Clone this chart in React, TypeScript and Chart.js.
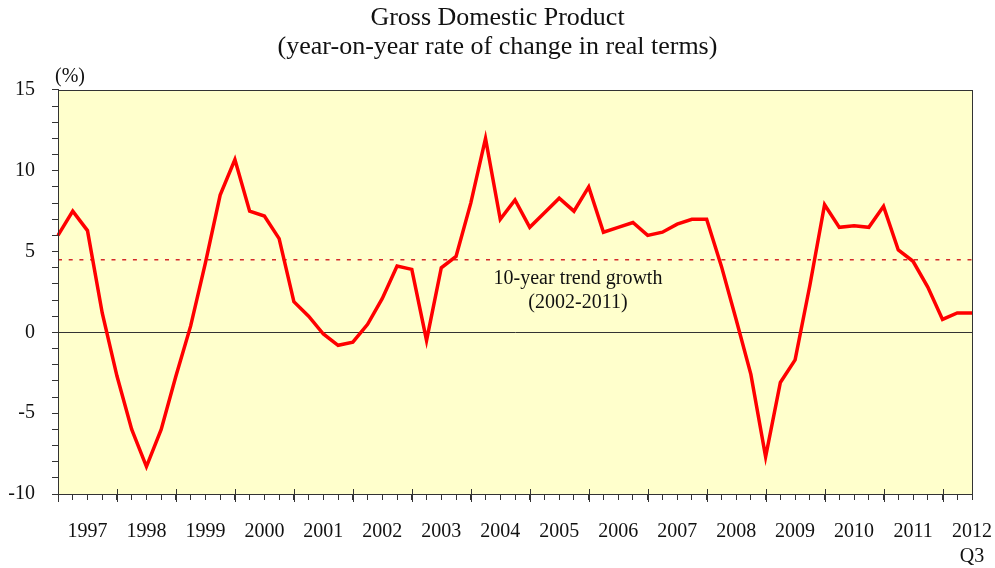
import React, { useEffect, useRef } from 'react';
import { Chart, registerables } from 'chart.js';

Chart.register(...registerables);

// ---- data ----
const YEARS = [1997, 1998, 1999, 2000, 2001, 2002, 2003, 2004, 2005, 2006, 2007, 2008, 2009, 2010, 2011, 2012];
const QUARTER_NAMES = ['Q1', 'Q2', 'Q3', 'Q4'];
const LAST_QUARTER_COUNT = 3; // series ends 2012 Q3

const GDP = [
  6.0, 7.5, 6.3, 1.2,
  -2.7, -6.0, -8.3, -6.0,
  -2.7, 0.4, 4.3, 8.5,
  10.7, 7.5, 7.2, 5.8,
  1.9, 1.0, -0.1, -0.8,
  -0.6, 0.5, 2.1, 4.1,
  3.9, -0.5, 4.0, 4.7,
  8.0, 12.0, 7.0, 8.2,
  6.5, 7.4, 8.3, 7.5,
  9.0, 6.2, 6.5, 6.8,
  6.0, 6.2, 6.7, 7.0,
  7.0, 4.1, 0.8, -2.6,
  -7.7, -3.1, -1.7, 2.9,
  7.9, 6.5, 6.6, 6.5,
  7.8, 5.1, 4.4, 2.8,
  0.8, 1.2, 1.2,
];

const TREND = 4.5;
const TREND_LABEL = ['10-year trend growth', '(2002-2011)'];
const TITLE = ['Gross Domestic Product', '(year-on-year rate of change in real terms)'];
const Y_UNIT = '(%)';
const Y_MIN = -10;
const Y_MAX = 15;
const Y_LABEL_STEP = 5;

const CATEGORIES: string[] = [];
YEARS.forEach((y, yi) => {
  QUARTER_NAMES.forEach((q, qi) => {
    if (yi < YEARS.length - 1 || qi < LAST_QUARTER_COUNT) CATEGORIES.push(`${y} ${q}`);
  });
});

// ---- styles ----
const SERIF = "'Liberation Serif', 'Times New Roman', serif";
const BG = '#FFFFCC';
const AXIS = '#333333';
const TEXT = '#111111';

const decor = {
  id: 'decor',
  beforeDraw(chart: any) {
    const { ctx, chartArea: a } = chart;
    ctx.save();
    ctx.fillStyle = BG;
    ctx.fillRect(a.left, a.top, a.right - a.left, a.bottom - a.top);
    ctx.restore();
  },
  afterDraw(chart: any) {
    const { ctx, chartArea: a, scales } = chart;
    const xs = scales.x;
    const ys = scales.y;
    ctx.save();
    ctx.strokeStyle = AXIS;
    ctx.lineWidth = 1;
    ctx.strokeRect(Math.round(a.left) + 0.5, Math.round(a.top) + 0.5, Math.round(a.right - a.left), Math.round(a.bottom - a.top));
    // major year ticks
    for (let i = 0; i < CATEGORIES.length; i += 4) {
      const px = Math.round(xs.getPixelForValue(i)) + 0.5;
      ctx.beginPath();
      ctx.moveTo(px, a.bottom - 5);
      ctx.lineTo(px, a.bottom + 8);
      ctx.stroke();
    }
    ctx.fillStyle = TEXT;
    ctx.font = `20px ${SERIF}`;
    ctx.textBaseline = 'middle';
    ctx.textAlign = 'left';
    ctx.fillText(Y_UNIT, a.left - 3, a.top - 13);
    const ty = ys.getPixelForValue(TREND);
    const tx = xs.getPixelForValue(35) + 4;
    ctx.textAlign = 'center';
    ctx.fillText(TREND_LABEL[0], tx, ty + 19);
    ctx.fillText(TREND_LABEL[1], tx, ty + 43);
    ctx.restore();
  },
};

export default function App() {
  const ref = useRef<HTMLCanvasElement | null>(null);

  useEffect(() => {
    if (!ref.current) return;
    const chart = new Chart(ref.current, {
      type: 'line',
      data: {
        labels: CATEGORIES,
        datasets: [
          {
            data: GDP,
            borderColor: '#FF0000',
            borderWidth: 3.5,
            pointRadius: 0,
            tension: 0,
          },
          {
            data: [
              { x: CATEGORIES[0], y: TREND },
              { x: CATEGORIES[CATEGORIES.length - 1], y: TREND },
            ] as any,
            borderColor: '#D42A2A',
            borderWidth: 1.5,
            borderDash: [4, 6.7],
            pointRadius: 0,
          },
        ],
      },
      options: {
        responsive: false,
        animation: false,
        devicePixelRatio: 1,
        layout: { padding: 0 },
        plugins: {
          legend: { display: false },
          tooltip: { enabled: false },
          title: {
            display: true,
            text: TITLE,
            color: TEXT,
            font: { family: SERIF, size: 26, weight: 'normal', lineHeight: 1.115 },
            padding: { top: 4, bottom: 28 },
          },
        },
        scales: {
          x: {
            type: 'category',
            offset: false,
            grid: { display: true, drawOnChartArea: false, tickLength: 6, tickColor: AXIS, offset: false },
            border: { display: true, color: AXIS, width: 1 },
            ticks: {
              autoSkip: false,
              maxRotation: 0,
              minRotation: 0,
              padding: 19.5,
              color: TEXT,
              font: { family: SERIF, size: 20, lineHeight: 1.25 },
              callback: (_v: any, index: number) => {
                const [y, q] = CATEGORIES[index].split(' ');
                if (index === CATEGORIES.length - 1) return [y, q];
                return q === 'Q3' ? y : '';
              },
            },
            afterFit: (s: any) => {
              s.height = 74;
              s.paddingLeft = 0;
              s.paddingRight = 23;
            },
          },
          y: {
            min: Y_MIN,
            max: Y_MAX,
            ticks: {
              stepSize: 1,
              autoSkip: false,
              padding: 17,
              color: TEXT,
              font: { family: SERIF, size: 20 },
              callback: (v: any) => (Number(v) % Y_LABEL_STEP === 0 ? String(v) : ''),
            },
            grid: {
              color: (ctx: any) => (ctx.tick && ctx.tick.value === 0 ? AXIS : 'rgba(0,0,0,0)'),
              lineWidth: 1,
              tickColor: AXIS,
              tickLength: 6,
            },
            border: { display: true, color: AXIS, width: 1 },
            afterFit: (s: any) => {
              s.width = 58;
            },
          },
        },
      },
      plugins: [decor],
    });
    return () => chart.destroy();
  }, []);

  return (
    <div style={{ position: 'fixed', left: 0, top: 0, width: 995, height: 568, background: '#fff' }}>
      <canvas ref={ref} width={995} height={568} style={{ display: 'block' }} />
    </div>
  );
}
